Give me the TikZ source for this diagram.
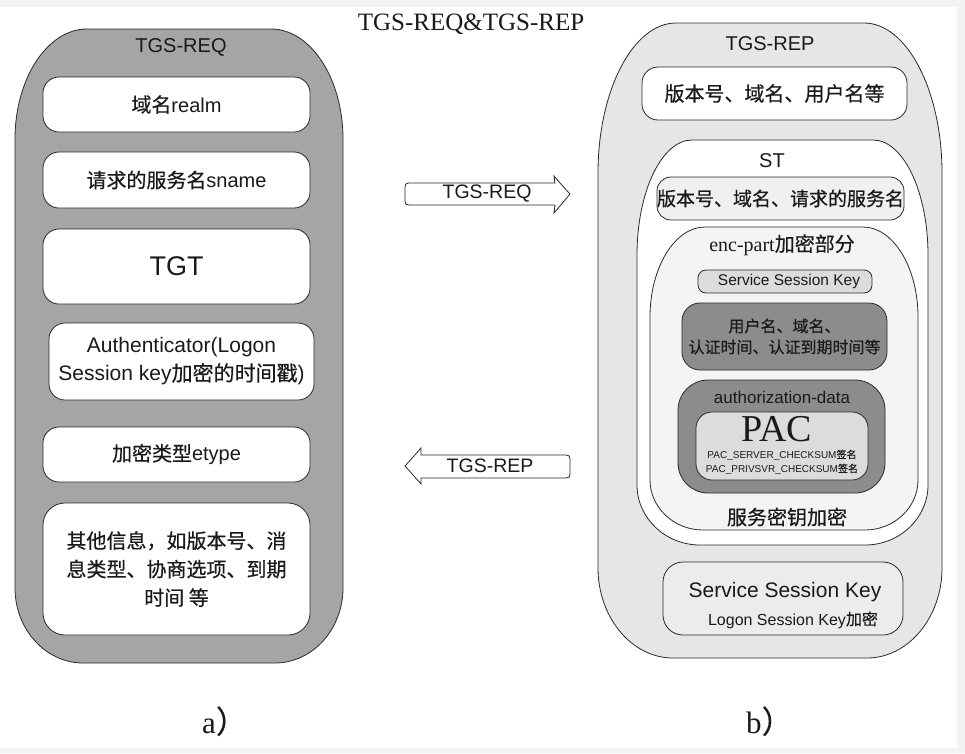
\documentclass[tikz,border=0pt]{standalone}
\usepackage{fontspec}
\setmainfont{Liberation Serif}
\setsansfont{Liberation Sans}
\newfontfamily\cjk[FakeBold=0.5]{Noto Sans CJK SC}
\newcommand\zh[1]{{\cjk #1}}
\newcommand\fsz[2]{\fontsize{#1}{#2}\selectfont}
\definecolor{reqgray}{HTML}{A5A5A5}
\definecolor{repgray}{HTML}{E6E6E6}
\definecolor{encgray}{HTML}{F4F4F4}
\definecolor{stgray}{HTML}{F0F0F0}
\definecolor{lgray}{HTML}{DCDCDC}
\definecolor{kgray}{HTML}{ECECEC}
\definecolor{dgray}{HTML}{8C8C8C}
\definecolor{edge}{HTML}{2A2A2A}
\definecolor{ink}{HTML}{1A1A1A}
\definecolor{bggray}{HTML}{F2F2F2}
% tombstone-shaped container: style, x1,y1,x2,y2, top rx, top ry, bottom rx, bottom ry
\newcommand\tomb[9]{%
 \draw[#1] (#2,#5-#9) -- (#2,#3+#7)
  .. controls (#2,#3+0.45*#7) and (#2+0.45*#6,#3) .. (#2+#6,#3)
  -- (#4-#6,#3)
  .. controls (#4-0.45*#6,#3) and (#4,#3+0.45*#7) .. (#4,#3+#7)
  -- (#4,#5-#9)
  .. controls (#4,#5-0.45*#9) and (#4-0.45*#8,#5) .. (#4-#8,#5)
  -- (#2+#8,#5)
  .. controls (#2+0.45*#8,#5) and (#2,#5-0.45*#9) .. (#2,#5-#9) -- cycle;}
\tikzset{
 frame/.style={draw=edge, line width=0.8pt},
 pill/.style={frame, rounded corners=#1, inner sep=0pt, align=center, text=ink},
 pill/.default=16pt,
 lbl/.style={inner sep=0pt, align=center, text=ink},
}
\begin{document}
\begin{tikzpicture}[x=1pt,y=-1pt]
\useasboundingbox (0,0) rectangle (965,753);
\fill[bggray] (0,0) rectangle (965,753);
\fill[white] (0,7) rectangle (957,748);

% title
\node[lbl, font=\rmfamily\fsz{25}{30}] (title) at (471,24) {TGS-REQ\&TGS-REP};

% ---------- left: TGS-REQ ----------
\tomb{frame, fill=reqgray}{15}{29}{343}{663}{72}{110}{68}{75}
\node[lbl, font=\sffamily\fsz{20}{24}] (reqtitle) at (181,47) {TGS-REQ};
\node[pill, fill=white, minimum width=267pt, minimum height=55pt, font=\sffamily\fsz{20}{24}] (realm) at (176.5,104.5) {\zh{域名}realm};
\node[pill, fill=white, minimum width=267pt, minimum height=56pt, font=\sffamily\fsz{20}{24}] (sname) at (176.5,180) {\zh{请求的服务名}sname};
\node[pill, fill=white, minimum width=267pt, minimum height=75pt, font=\sffamily\fsz{27}{30}] (tgt) at (176.5,266.5) {TGT};
\node[pill, fill=white, minimum width=265pt, minimum height=77pt, font=\sffamily\fsz{21}{28}] (auth) at (181.5,361.5) {Authenticator(Logon\\Session key\zh{加密的时间戳})};
\node[pill, fill=white, minimum width=267pt, minimum height=55pt, font=\sffamily\fsz{20}{24}] (etype) at (176.5,454.5) {\zh{加密类型}etype};
\node[pill=22pt, fill=white, minimum width=267pt, minimum height=132pt, font=\cjk\fsz{20}{28.5}] (other) at (176.5,569) {其他信息，如版本号、消\\息类型、协商选项、到期\\时间 等};

% ---------- arrows ----------
\node[lbl, font=\sffamily\fsz{19.5}{22}] (reqarrow) at (487,194) {TGS-REQ};
\draw[frame, fill=white] (555,183) -- (409,183) .. controls (406,183) and (405,184) .. (405,187)
  -- (405,201) .. controls (405,204) and (406,205) .. (409,205) -- (555,205)
  -- (554,213) .. controls (560,206) .. (570,194) .. controls (560,183) .. (554,176) -- cycle;
\node[lbl, font=\sffamily\fsz{19.5}{22}] at (reqarrow) {TGS-REQ};

\node[lbl, font=\sffamily\fsz{19.5}{22}] (reparrow) at (490,466) {TGS-REP};
\draw[frame, fill=white] (421,455) -- (566,455) .. controls (569,455) and (570,456) .. (570,459)
  -- (570,474) .. controls (570,477) and (569,478) .. (566,478) -- (421,478)
  -- (421,484) .. controls (414,476) .. (405,466) .. controls (414,456) .. (421,448) -- cycle;
\node[lbl, font=\sffamily\fsz{19.5}{22}] at (reparrow) {TGS-REP};

% ---------- right: TGS-REP ----------
\tomb{frame, fill=repgray}{598}{23}{942}{658}{78}{150}{75}{90}
\node[lbl, font=\sffamily\fsz{20}{24}] (reptitle) at (770,44) {TGS-REP};
\node[pill, fill=white, minimum width=265pt, minimum height=53pt, font=\cjk\fsz{20}{24}] (head) at (774.5,93.5) {版本号、域名、用户名等};

% ST
\tomb{frame, fill=white}{637}{140}{928}{545}{55}{115}{63}{60}
\node[lbl, font=\sffamily\fsz{20}{24}] (sttitle) at (772,161) {ST};
\node[pill=14pt, fill=stgray, minimum width=245pt, minimum height=43pt, font=\cjk\fsz{19}{24}] (sthead) at (780.5,198.5) {版本号、域名、请求的服务名};

% enc-part
\tomb{frame, fill=encgray}{650}{227}{918}{530}{55}{90}{53}{50}
\node[lbl, font=\fsz{20}{24}] (enctitle) at (782,245) {{\rmfamily enc-part}\zh{加密部分}};
\node[pill=8pt, fill=lgray, minimum width=174pt, minimum height=23pt, font=\sffamily\fsz{15.5}{18}] (ssk) at (785,281.5) {\hspace*{8pt}Service Session Key};
\node[pill=18pt, fill=dgray, minimum width=205pt, minimum height=67pt, font=\cjk\fsz{16}{21}] (user) at (784.5,336.5) {用户名、域名、\\认证时间、认证到期时间等};
\node[pill=30pt, fill=dgray, minimum width=207pt, minimum height=113pt] (authdata) at (781.5,436.5) {};
\node[lbl, font=\sffamily\fsz{17}{20}] (authlbl) at (782,397) {authorization-data};
\node[pill=16pt, fill=lgray, minimum width=172pt, minimum height=68pt] (pac) at (782,446) {};
\node[lbl, font=\rmfamily\fsz{38}{40}] (paclbl) at (777,429) {PAC};
\node[lbl, font=\sffamily\fsz{10}{12}] (pacs1) at (782,455) {PAC\_SERVER\_CHECKSUM\zh{签名}};
\node[lbl, font=\sffamily\fsz{10}{12}] (pacs2) at (782,469) {PAC\_PRIVSVR\_CHECKSUM\zh{签名}};
\node[lbl, font=\cjk\fsz{20}{24}] (svckey) at (787,517) {服务密钥加密};

% Service Session Key (outside ST)
\node[pill=20pt, fill=kgray, minimum width=240pt, minimum height=73pt] (ssk2) at (783,598.5) {};
\node[lbl, font=\sffamily\fsz{21}{24}] (ssk2a) at (785,592) {Service Session Key};
\node[lbl, font=\sffamily\fsz{16}{20}] (ssk2b) at (793,620) {Logon Session Key\zh{加密}};

% captions
\node[lbl, anchor=base west, font=\rmfamily\fsz{31}{34}] (capa) at (202,733) {a\zh{）}};
\node[lbl, anchor=base west, font=\rmfamily\fsz{31}{34}] (capb) at (746,733) {b\zh{）}};
\end{tikzpicture}
\end{document}
